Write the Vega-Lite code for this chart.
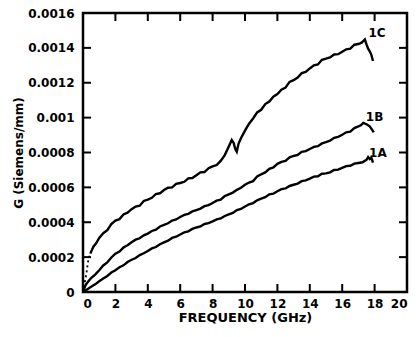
{
  "$schema": "https://vega.github.io/schema/vega-lite/v6.json",
  "width": 324,
  "height": 279,
  "autosize": {"type": "none"},
  "padding": {"left": 83, "top": 13, "right": 12, "bottom": 45},
  "background": "white",
  "config": {
    "view": {"stroke": "black", "strokeWidth": 2.5},
    "font": "DejaVu Sans",
    "axis": {
      "grid": false,
      "domain": false,
      "ticks": false,
      "labelFont": "DejaVu Sans",
      "labelFontWeight": "bold",
      "labelFontSize": 12,
      "labelColor": "black",
      "titleFont": "DejaVu Sans",
      "titleFontWeight": "bold",
      "titleColor": "black"
    }
  },
  "datasets": {
    "vticks": [
      {"x": 2, "q": 0}, {"x": 4, "q": 0}, {"x": 6, "q": 0}, {"x": 8, "q": 0}, {"x": 10, "q": 0},
      {"x": 12, "q": 0}, {"x": 14, "q": 0}, {"x": 16, "q": 0}, {"x": 18, "q": 0},
      {"x": 2, "q": 0.0016}, {"x": 4, "q": 0.0016}, {"x": 6, "q": 0.0016}, {"x": 8, "q": 0.0016}, {"x": 10, "q": 0.0016},
      {"x": 12, "q": 0.0016}, {"x": 14, "q": 0.0016}, {"x": 16, "q": 0.0016}, {"x": 18, "q": 0.0016}
    ],
    "hticks": [
      {"x": 0, "q": 0.0002}, {"x": 0, "q": 0.0004}, {"x": 0, "q": 0.0006}, {"x": 0, "q": 0.0008},
      {"x": 0, "q": 0.001}, {"x": 0, "q": 0.0012}, {"x": 0, "q": 0.0014},
      {"x": 20, "q": 0.0002}, {"x": 20, "q": 0.0004}, {"x": 20, "q": 0.0006}, {"x": 20, "q": 0.0008},
      {"x": 20, "q": 0.001}, {"x": 20, "q": 0.0012}, {"x": 20, "q": 0.0014}
    ],
    "curves": [
      {"x": 0, "q": 0, "s": "1A"},
      {"x": 0.25, "q": 0.000015, "s": "1A"},
      {"x": 0.5, "q": 0.00003, "s": "1A"},
      {"x": 0.75, "q": 0.000044, "s": "1A"},
      {"x": 1, "q": 0.000062, "s": "1A"},
      {"x": 1.25, "q": 0.000078, "s": "1A"},
      {"x": 1.5, "q": 0.000092, "s": "1A"},
      {"x": 1.75, "q": 0.000112, "s": "1A"},
      {"x": 2, "q": 0.000125, "s": "1A"},
      {"x": 2.25, "q": 0.000142, "s": "1A"},
      {"x": 2.5, "q": 0.000153, "s": "1A"},
      {"x": 2.75, "q": 0.000172, "s": "1A"},
      {"x": 3, "q": 0.000185, "s": "1A"},
      {"x": 3.25, "q": 0.000195, "s": "1A"},
      {"x": 3.5, "q": 0.000212, "s": "1A"},
      {"x": 3.75, "q": 0.000222, "s": "1A"},
      {"x": 4, "q": 0.000235, "s": "1A"},
      {"x": 4.25, "q": 0.00025, "s": "1A"},
      {"x": 4.5, "q": 0.000258, "s": "1A"},
      {"x": 4.75, "q": 0.000274, "s": "1A"},
      {"x": 5, "q": 0.000285, "s": "1A"},
      {"x": 5.25, "q": 0.000294, "s": "1A"},
      {"x": 5.5, "q": 0.00031, "s": "1A"},
      {"x": 5.75, "q": 0.000317, "s": "1A"},
      {"x": 6, "q": 0.00033, "s": "1A"},
      {"x": 6.25, "q": 0.000342, "s": "1A"},
      {"x": 6.5, "q": 0.000348, "s": "1A"},
      {"x": 6.75, "q": 0.000362, "s": "1A"},
      {"x": 7, "q": 0.00037, "s": "1A"},
      {"x": 7.25, "q": 0.000376, "s": "1A"},
      {"x": 7.5, "q": 0.00039, "s": "1A"},
      {"x": 7.75, "q": 0.000395, "s": "1A"},
      {"x": 8, "q": 0.000405, "s": "1A"},
      {"x": 8.25, "q": 0.000416, "s": "1A"},
      {"x": 8.5, "q": 0.000422, "s": "1A"},
      {"x": 8.75, "q": 0.000436, "s": "1A"},
      {"x": 9, "q": 0.000445, "s": "1A"},
      {"x": 9.25, "q": 0.000453, "s": "1A"},
      {"x": 9.5, "q": 0.00047, "s": "1A"},
      {"x": 9.75, "q": 0.000476, "s": "1A"},
      {"x": 10, "q": 0.00049, "s": "1A"},
      {"x": 10.25, "q": 0.000503, "s": "1A"},
      {"x": 10.5, "q": 0.00051, "s": "1A"},
      {"x": 10.75, "q": 0.000526, "s": "1A"},
      {"x": 11, "q": 0.000535, "s": "1A"},
      {"x": 11.25, "q": 0.000544, "s": "1A"},
      {"x": 11.5, "q": 0.00056, "s": "1A"},
      {"x": 11.75, "q": 0.000564, "s": "1A"},
      {"x": 12, "q": 0.000578, "s": "1A"},
      {"x": 12.25, "q": 0.00059, "s": "1A"},
      {"x": 12.5, "q": 0.000594, "s": "1A"},
      {"x": 12.75, "q": 0.000608, "s": "1A"},
      {"x": 13, "q": 0.000615, "s": "1A"},
      {"x": 13.25, "q": 0.000622, "s": "1A"},
      {"x": 13.5, "q": 0.000636, "s": "1A"},
      {"x": 13.75, "q": 0.00064, "s": "1A"},
      {"x": 14, "q": 0.00065, "s": "1A"},
      {"x": 14.25, "q": 0.000662, "s": "1A"},
      {"x": 14.5, "q": 0.000664, "s": "1A"},
      {"x": 14.75, "q": 0.000678, "s": "1A"},
      {"x": 15, "q": 0.00068, "s": "1A"},
      {"x": 15.25, "q": 0.000686, "s": "1A"},
      {"x": 15.5, "q": 0.0007, "s": "1A"},
      {"x": 15.75, "q": 0.000702, "s": "1A"},
      {"x": 16, "q": 0.000712, "s": "1A"},
      {"x": 16.25, "q": 0.000722, "s": "1A"},
      {"x": 16.5, "q": 0.000724, "s": "1A"},
      {"x": 16.75, "q": 0.000736, "s": "1A"},
      {"x": 17, "q": 0.00074, "s": "1A"},
      {"x": 17.25, "q": 0.000744, "s": "1A"},
      {"x": 17.5, "q": 0.000758, "s": "1A"},
      {"x": 17.6, "q": 0.000774, "s": "1A"},
      {"x": 17.7, "q": 0.000762, "s": "1A"},
      {"x": 17.8, "q": 0.00077, "s": "1A"},
      {"x": 17.9, "q": 0.000742, "s": "1A"},

      {"x": 0, "q": 0, "s": "1B"},
      {"x": 0.15, "q": 0.000038, "s": "1B"},
      {"x": 0.3, "q": 0.000058, "s": "1B"},
      {"x": 0.5, "q": 0.00008, "s": "1B"},
      {"x": 0.75, "q": 0.0001, "s": "1B"},
      {"x": 1, "q": 0.000125, "s": "1B"},
      {"x": 1.25, "q": 0.000152, "s": "1B"},
      {"x": 1.5, "q": 0.00017, "s": "1B"},
      {"x": 1.75, "q": 0.000198, "s": "1B"},
      {"x": 2, "q": 0.00022, "s": "1B"},
      {"x": 2.25, "q": 0.000232, "s": "1B"},
      {"x": 2.5, "q": 0.000255, "s": "1B"},
      {"x": 2.75, "q": 0.000268, "s": "1B"},
      {"x": 3, "q": 0.000285, "s": "1B"},
      {"x": 3.25, "q": 0.0003, "s": "1B"},
      {"x": 3.5, "q": 0.000308, "s": "1B"},
      {"x": 3.75, "q": 0.000325, "s": "1B"},
      {"x": 4, "q": 0.000335, "s": "1B"},
      {"x": 4.25, "q": 0.00035, "s": "1B"},
      {"x": 4.5, "q": 0.000358, "s": "1B"},
      {"x": 4.75, "q": 0.000376, "s": "1B"},
      {"x": 5, "q": 0.000385, "s": "1B"},
      {"x": 5.25, "q": 0.000394, "s": "1B"},
      {"x": 5.5, "q": 0.00041, "s": "1B"},
      {"x": 5.75, "q": 0.000416, "s": "1B"},
      {"x": 6, "q": 0.00043, "s": "1B"},
      {"x": 6.25, "q": 0.000442, "s": "1B"},
      {"x": 6.5, "q": 0.000448, "s": "1B"},
      {"x": 6.75, "q": 0.000462, "s": "1B"},
      {"x": 7, "q": 0.00047, "s": "1B"},
      {"x": 7.25, "q": 0.000478, "s": "1B"},
      {"x": 7.5, "q": 0.000492, "s": "1B"},
      {"x": 7.75, "q": 0.000498, "s": "1B"},
      {"x": 8, "q": 0.00051, "s": "1B"},
      {"x": 8.25, "q": 0.000524, "s": "1B"},
      {"x": 8.5, "q": 0.00053, "s": "1B"},
      {"x": 8.75, "q": 0.00055, "s": "1B"},
      {"x": 9, "q": 0.00056, "s": "1B"},
      {"x": 9.25, "q": 0.00057, "s": "1B"},
      {"x": 9.5, "q": 0.000586, "s": "1B"},
      {"x": 9.75, "q": 0.000598, "s": "1B"},
      {"x": 10, "q": 0.000615, "s": "1B"},
      {"x": 10.25, "q": 0.000628, "s": "1B"},
      {"x": 10.5, "q": 0.000636, "s": "1B"},
      {"x": 10.75, "q": 0.000662, "s": "1B"},
      {"x": 11, "q": 0.000675, "s": "1B"},
      {"x": 11.25, "q": 0.000686, "s": "1B"},
      {"x": 11.5, "q": 0.000706, "s": "1B"},
      {"x": 11.75, "q": 0.000714, "s": "1B"},
      {"x": 12, "q": 0.000735, "s": "1B"},
      {"x": 12.25, "q": 0.000746, "s": "1B"},
      {"x": 12.5, "q": 0.000752, "s": "1B"},
      {"x": 12.75, "q": 0.000772, "s": "1B"},
      {"x": 13, "q": 0.00078, "s": "1B"},
      {"x": 13.25, "q": 0.000786, "s": "1B"},
      {"x": 13.5, "q": 0.000804, "s": "1B"},
      {"x": 13.75, "q": 0.000808, "s": "1B"},
      {"x": 14, "q": 0.00082, "s": "1B"},
      {"x": 14.25, "q": 0.000832, "s": "1B"},
      {"x": 14.5, "q": 0.000836, "s": "1B"},
      {"x": 14.75, "q": 0.000852, "s": "1B"},
      {"x": 15, "q": 0.00086, "s": "1B"},
      {"x": 15.25, "q": 0.000868, "s": "1B"},
      {"x": 15.5, "q": 0.000884, "s": "1B"},
      {"x": 15.75, "q": 0.00089, "s": "1B"},
      {"x": 16, "q": 0.000902, "s": "1B"},
      {"x": 16.25, "q": 0.000916, "s": "1B"},
      {"x": 16.5, "q": 0.00092, "s": "1B"},
      {"x": 16.75, "q": 0.00094, "s": "1B"},
      {"x": 17, "q": 0.00095, "s": "1B"},
      {"x": 17.15, "q": 0.000956, "s": "1B"},
      {"x": 17.3, "q": 0.00097, "s": "1B"},
      {"x": 17.5, "q": 0.000962, "s": "1B"},
      {"x": 17.7, "q": 0.00095, "s": "1B"},
      {"x": 17.85, "q": 0.00093, "s": "1B"},
      {"x": 17.95, "q": 0.000915, "s": "1B"},

      {"x": 0, "q": 0, "s": "1C0"},
      {"x": 0.1, "q": 0.00005, "s": "1C0"},
      {"x": 0.2, "q": 0.0001, "s": "1C0"},
      {"x": 0.33, "q": 0.000184, "s": "1C0"},
      {"x": 0.45, "q": 0.00022, "s": "1C0"},

      {"x": 0.45, "q": 0.00022, "s": "1C"},
      {"x": 0.64, "q": 0.00026, "s": "1C"},
      {"x": 0.8, "q": 0.000278, "s": "1C"},
      {"x": 1, "q": 0.00031, "s": "1C"},
      {"x": 1.25, "q": 0.000337, "s": "1C"},
      {"x": 1.5, "q": 0.000355, "s": "1C"},
      {"x": 1.75, "q": 0.00039, "s": "1C"},
      {"x": 2, "q": 0.00041, "s": "1C"},
      {"x": 2.25, "q": 0.000418, "s": "1C"},
      {"x": 2.5, "q": 0.000445, "s": "1C"},
      {"x": 2.75, "q": 0.000455, "s": "1C"},
      {"x": 3, "q": 0.000475, "s": "1C"},
      {"x": 3.25, "q": 0.00049, "s": "1C"},
      {"x": 3.5, "q": 0.000495, "s": "1C"},
      {"x": 3.75, "q": 0.000522, "s": "1C"},
      {"x": 4, "q": 0.00053, "s": "1C"},
      {"x": 4.25, "q": 0.00054, "s": "1C"},
      {"x": 4.5, "q": 0.000562, "s": "1C"},
      {"x": 4.75, "q": 0.000566, "s": "1C"},
      {"x": 5, "q": 0.000585, "s": "1C"},
      {"x": 5.25, "q": 0.000598, "s": "1C"},
      {"x": 5.5, "q": 0.0006, "s": "1C"},
      {"x": 5.75, "q": 0.00062, "s": "1C"},
      {"x": 6, "q": 0.000625, "s": "1C"},
      {"x": 6.25, "q": 0.000632, "s": "1C"},
      {"x": 6.5, "q": 0.000652, "s": "1C"},
      {"x": 6.75, "q": 0.000654, "s": "1C"},
      {"x": 7, "q": 0.00067, "s": "1C"},
      {"x": 7.25, "q": 0.000686, "s": "1C"},
      {"x": 7.5, "q": 0.000688, "s": "1C"},
      {"x": 7.75, "q": 0.00071, "s": "1C"},
      {"x": 8, "q": 0.00072, "s": "1C"},
      {"x": 8.25, "q": 0.000728, "s": "1C"},
      {"x": 8.5, "q": 0.000752, "s": "1C"},
      {"x": 8.75, "q": 0.000785, "s": "1C"},
      {"x": 8.9, "q": 0.000815, "s": "1C"},
      {"x": 9.05, "q": 0.000845, "s": "1C"},
      {"x": 9.18, "q": 0.000872, "s": "1C"},
      {"x": 9.3, "q": 0.000855, "s": "1C"},
      {"x": 9.4, "q": 0.00082, "s": "1C"},
      {"x": 9.49, "q": 0.000805, "s": "1C"},
      {"x": 9.6, "q": 0.00085, "s": "1C"},
      {"x": 9.75, "q": 0.000882, "s": "1C"},
      {"x": 10, "q": 0.000925, "s": "1C"},
      {"x": 10.25, "q": 0.000965, "s": "1C"},
      {"x": 10.5, "q": 0.000995, "s": "1C"},
      {"x": 10.75, "q": 0.00103, "s": "1C"},
      {"x": 11, "q": 0.001045, "s": "1C"},
      {"x": 11.25, "q": 0.001078, "s": "1C"},
      {"x": 11.5, "q": 0.001092, "s": "1C"},
      {"x": 11.75, "q": 0.00112, "s": "1C"},
      {"x": 12, "q": 0.001135, "s": "1C"},
      {"x": 12.25, "q": 0.00116, "s": "1C"},
      {"x": 12.5, "q": 0.001172, "s": "1C"},
      {"x": 12.75, "q": 0.001205, "s": "1C"},
      {"x": 13, "q": 0.001215, "s": "1C"},
      {"x": 13.25, "q": 0.00123, "s": "1C"},
      {"x": 13.5, "q": 0.001255, "s": "1C"},
      {"x": 13.75, "q": 0.001262, "s": "1C"},
      {"x": 14, "q": 0.001282, "s": "1C"},
      {"x": 14.25, "q": 0.0013, "s": "1C"},
      {"x": 14.5, "q": 0.001305, "s": "1C"},
      {"x": 14.75, "q": 0.001332, "s": "1C"},
      {"x": 15, "q": 0.001338, "s": "1C"},
      {"x": 15.25, "q": 0.001345, "s": "1C"},
      {"x": 15.5, "q": 0.001362, "s": "1C"},
      {"x": 15.75, "q": 0.001364, "s": "1C"},
      {"x": 16, "q": 0.001378, "s": "1C"},
      {"x": 16.25, "q": 0.001392, "s": "1C"},
      {"x": 16.5, "q": 0.001396, "s": "1C"},
      {"x": 16.75, "q": 0.001418, "s": "1C"},
      {"x": 17, "q": 0.001422, "s": "1C"},
      {"x": 17.2, "q": 0.00143, "s": "1C"},
      {"x": 17.4, "q": 0.001448, "s": "1C"},
      {"x": 17.5, "q": 0.00142, "s": "1C"},
      {"x": 17.6, "q": 0.001395, "s": "1C"},
      {"x": 17.7, "q": 0.00138, "s": "1C"},
      {"x": 17.8, "q": 0.00136, "s": "1C"},
      {"x": 17.9, "q": 0.001325, "s": "1C"}
    ],
    "labels": [
      {"x": 18.15, "q": 0.001485, "t": "1C"},
      {"x": 18.0, "q": 0.001004, "t": "1B"},
      {"x": 18.2, "q": 0.000797, "t": "1A"}
    ]
  },
  "encoding": {
    "x": {
      "field": "x", "type": "quantitative",
      "scale": {"domain": [0, 20], "nice": false, "zero": false},
      "axis": {
        "orient": "bottom",
        "values": [0, 2, 4, 6, 8, 10, 12, 14, 16, 18, 20],
        "title": "FREQUENCY (GHz)",
        "titleFontSize": 13,
        "titlePadding": 2,
        "labelPadding": 6
      }
    },
    "y": {
      "field": "q", "type": "quantitative",
      "scale": {"domain": [0, 0.0016], "nice": false},
      "axis": {
        "orient": "left",
        "values": [0, 0.0002, 0.0004, 0.0006, 0.0008, 0.001, 0.0012, 0.0014, 0.0016],
        "format": "~g",
        "title": "G (Siemens/mm)",
        "titleFontSize": 12,
        "titlePadding": 2,
        "labelPadding": 9
      }
    }
  },
  "layer": [
    {
      "data": {"name": "curves"},
      "transform": [{"filter": "datum.s != '1C0'"}],
      "mark": {"type": "line", "color": "black", "strokeWidth": 2.4, "interpolate": "linear"},
      "encoding": {"detail": {"field": "s"}}
    },
    {
      "data": {"name": "curves"},
      "transform": [{"filter": "datum.s == '1C0'"}],
      "mark": {"type": "line", "color": "black", "strokeWidth": 1.8, "strokeDash": [2, 3]},
      "encoding": {}
    },
    {
      "data": {"name": "vticks"},
      "mark": {"type": "tick", "orient": "vertical", "color": "black", "size": 16, "thickness": 2, "clip": true, "opacity": 1}
    },
    {
      "data": {"name": "hticks"},
      "mark": {"type": "tick", "orient": "horizontal", "color": "black", "size": 16, "thickness": 2, "clip": true, "opacity": 1}
    },
    {
      "data": {"name": "labels"},
      "mark": {"type": "text", "color": "black", "font": "DejaVu Sans", "fontWeight": "bold", "fontSize": 12, "align": "center", "baseline": "middle"},
      "encoding": {"text": {"field": "t"}}
    }
  ]
}
